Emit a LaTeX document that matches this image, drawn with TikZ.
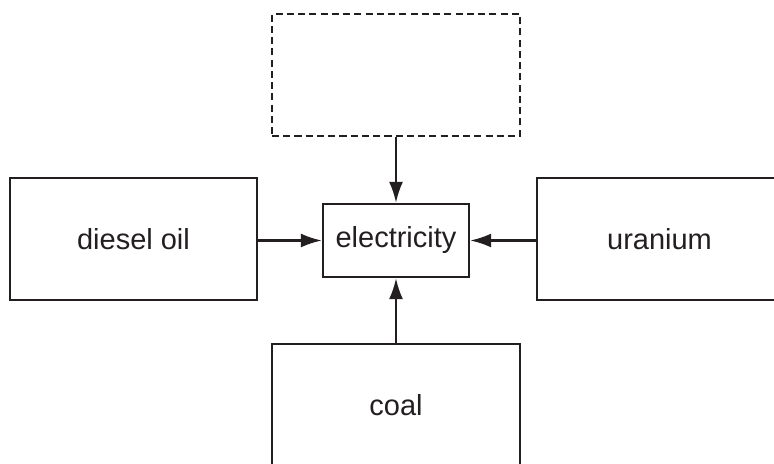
\documentclass[tikz,border=0pt]{standalone}
\usepackage{fontspec}
\setmainfont{Liberation Sans}
\usepackage{tikz}
\usetikzlibrary{arrows.meta}
\definecolor{ink}{HTML}{231F20}

\begin{document}
\begin{tikzpicture}
\tikzset{box/.style = {draw=ink, text=ink, line width=1.3pt, minimum width=4.94cm, minimum height=2.44cm, font=\fontsize{16.5}{19}\selectfont}}
\tikzset{dashbox/.style = {box, line width=0.8pt, dash pattern=on 4pt off 2.4pt}}
\tikzset{edge/.style = {-{Latex[length=12pt,width=8pt]}, draw=ink, line width=1.3pt}}

\useasboundingbox (0,0) rectangle (15.48,-9.28);

\node[box, minimum width=2.92cm, minimum height=1.46cm] (elec) at (7.92,-4.81) {electricity};
\node[dashbox, minimum width=4.96cm] (unknown) at (7.92,-1.5) {};
\node[box] (diesel) at (2.67,-4.78) {diesel oil};
\node[box, minimum width=4.9cm] (uranium) at (13.19,-4.78) {uranium};
\node[box, minimum width=4.96cm] (coal) at (7.92,-8.1) {coal};

\draw[edge] (unknown) to (elec);
\draw[edge] (diesel.east |- elec) to (elec);
\draw[edge] (uranium.west |- elec) to (elec);
\draw[edge] (coal) to (elec);

\end{tikzpicture}
\end{document}
